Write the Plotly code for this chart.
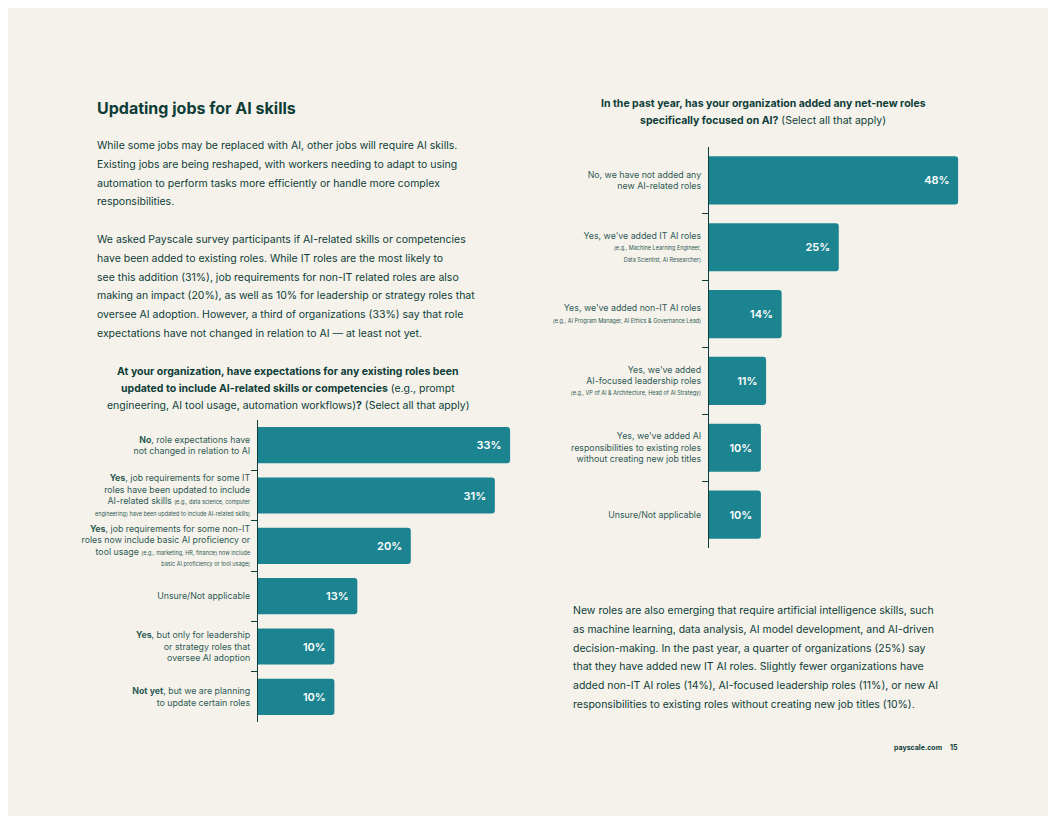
import plotly.graph_objects as go

# Chart 1: existing roles updated
q1_labels = [
    "<b>No</b>, role expectations have<br>not changed in relation to AI",
    "<b>Yes</b>, job requirements for some IT<br>roles have been updated to include<br>AI-related skills <span style='font-size:5.5px'>(e.g., data science, computer</span><br><span style='font-size:5.5px'>engineering) have been updated to include AI-related skills)</span>",
    "<b>Yes</b>, job requirements for some non-IT<br>roles now include basic AI proficiency or<br>tool usage <span style='font-size:5.5px'>(e.g., marketing, HR, finance) now include</span><br><span style='font-size:5.5px'>basic AI proficiency or tool usage)</span>",
    "Unsure/Not applicable",
    "<b>Yes</b>, but only for leadership<br>or strategy roles that<br>oversee AI adoption",
    "<b>Not yet</b>, but we are planning<br>to update certain roles",
]
q1_values = [33, 31, 20, 13, 10, 10]

# Chart 2: net-new AI roles
q2_labels = [
    "No, we have not added any<br>new AI-related roles",
    "Yes, we've added IT AI roles<br><span style='font-size:5.5px'>(e.g., Machine Learning Engineer,</span><br><span style='font-size:5.5px'>Data Scientist, AI Researcher)</span>",
    "Yes, we've added non-IT AI roles<br><span style='font-size:5.5px'>(e.g., AI Program Manager, AI Ethics & Governance Lead)</span>",
    "Yes, we've added<br>AI-focused leadership roles<br><span style='font-size:5.5px'>(e.g., VP of AI & Architecture, Head of AI Strategy)</span>",
    "Yes, we've added AI<br>responsibilities to existing roles<br>without creating new job titles",
    "Unsure/Not applicable",
]
q2_values = [48, 25, 14, 11, 10, 10]

intro_lines = [
    "While some jobs may be replaced with AI, other jobs will require AI skills.",
    "Existing jobs are being reshaped, with workers needing to adapt to using",
    "automation to perform tasks more efficiently or handle more complex",
    "responsibilities.",
    "",
    "We asked Payscale survey participants if AI-related skills or competencies",
    "have been added to existing roles. While IT roles are the most likely to",
    "see this addition (31%), job requirements for non-IT related roles are also",
    "making an impact (20%), as well as 10% for leadership or strategy roles that",
    "oversee AI adoption. However, a third of organizations (33%) say that role",
    "expectations have not changed in relation to AI — at least not yet.",
]
outro_lines = [
    "New roles are also emerging that require artificial intelligence skills, such",
    "as machine learning, data analysis, AI model development, and AI-driven",
    "decision-making. In the past year, a quarter of organizations (25%) say",
    "that they have added new IT AI roles. Slightly fewer organizations have",
    "added non-IT AI roles (14%), AI-focused leadership roles (11%), or new AI",
    "responsibilities to existing roles without creating new job titles (10%).",
]

BG = "#f5f2eb"
INK = "#0e3d38"
BAR = "#1c8490"
FONT = "Inter"
W, H, OFF = 1056, 816, 8  # page body margin shifts the plot

def px_x(x):
    return (x - OFF) / W

def px_y(y):
    return 1 - (y - OFF) / H

fig = go.Figure()
for vals, xa, ya in [(q1_values, "x", "y"), (q2_values, "x2", "y2")]:
    fig.add_trace(go.Bar(
        x=vals, y=list(range(len(vals))), orientation="h",
        marker=dict(color=BAR, cornerradius=3, line=dict(width=0)),
        text=[f"{v}%  " for v in vals], textposition="inside", insidetextanchor="end",
        textfont=dict(color="white", size=11, family=FONT, weight=600),
        xaxis=xa, yaxis=ya, showlegend=False, hoverinfo="skip",
    ))

yax = dict(autorange="reversed", showline=True, linecolor=INK, linewidth=1.2, ticks="",
           tickfont=dict(size=8.8, color="#2f5a55", family=FONT),
           showgrid=False, zeroline=False, ticklabelstandoff=5, tickmode="array",
           tickvals=list(range(6)),
           minor=dict(tickmode="array", tickvals=[i + 0.5 for i in range(5)],
                      ticks="outside", ticklen=6, tickcolor=INK, showgrid=False))

fig.update_layout(
    width=W, height=H, margin=dict(l=0, r=0, t=0, b=0),
    paper_bgcolor=BG, plot_bgcolor=BG, bargap=0.28,
    font=dict(family=FONT, color=INK),
    xaxis=dict(domain=[px_x(258), px_x(528)], range=[0, 270/7.64], visible=False),
    yaxis=dict(domain=[px_y(722), px_y(420)], anchor="x", ticktext=q1_labels, **yax),
    xaxis2=dict(domain=[px_x(709), px_x(992)], range=[0, 283/5.19], visible=False, anchor="y2"),
    yaxis2=dict(domain=[px_y(548), px_y(147)], anchor="x2", ticktext=q2_labels, **yax),
)

def note(x, y, text, size=10.5, xanchor="left", align="left"):
    fig.add_annotation(x=px_x(x), y=px_y(y), xref="paper", yref="paper", text=text,
                       showarrow=False, xanchor=xanchor, yanchor="top", align=align,
                       font=dict(size=size, color=INK, family=FONT))

def para(x, y, lines, step=18.8, size=10.5, xanchor="left"):
    for i, ln in enumerate(lines):
        if ln:
            note(x, y + i * step, ln, size=size, xanchor=xanchor, align="center" if xanchor == "center" else "left")

note(95, 96, "<b>Updating jobs for AI skills</b>", size=16)
para(95, 137, intro_lines)
para(288, 363, ["<b>At your organization, have expectations for any existing roles been</b>",
                "<b>updated to include AI-related skills or competencies</b> (e.g., prompt",
                "engineering, AI tool usage, automation workflows)<b>?</b> (Select all that apply)"],
     step=17, xanchor="center")
para(763, 95, ["<b>In the past year, has your organization added any net-new roles</b>",
               "<b>specifically focused on AI?</b> (Select all that apply)"], step=17, xanchor="center")
para(571, 602, outro_lines)
note(960, 741, "<b>payscale.com</b>    <b>15</b>", size=7, xanchor="right", align="right")

fig.write_html("out.html")
